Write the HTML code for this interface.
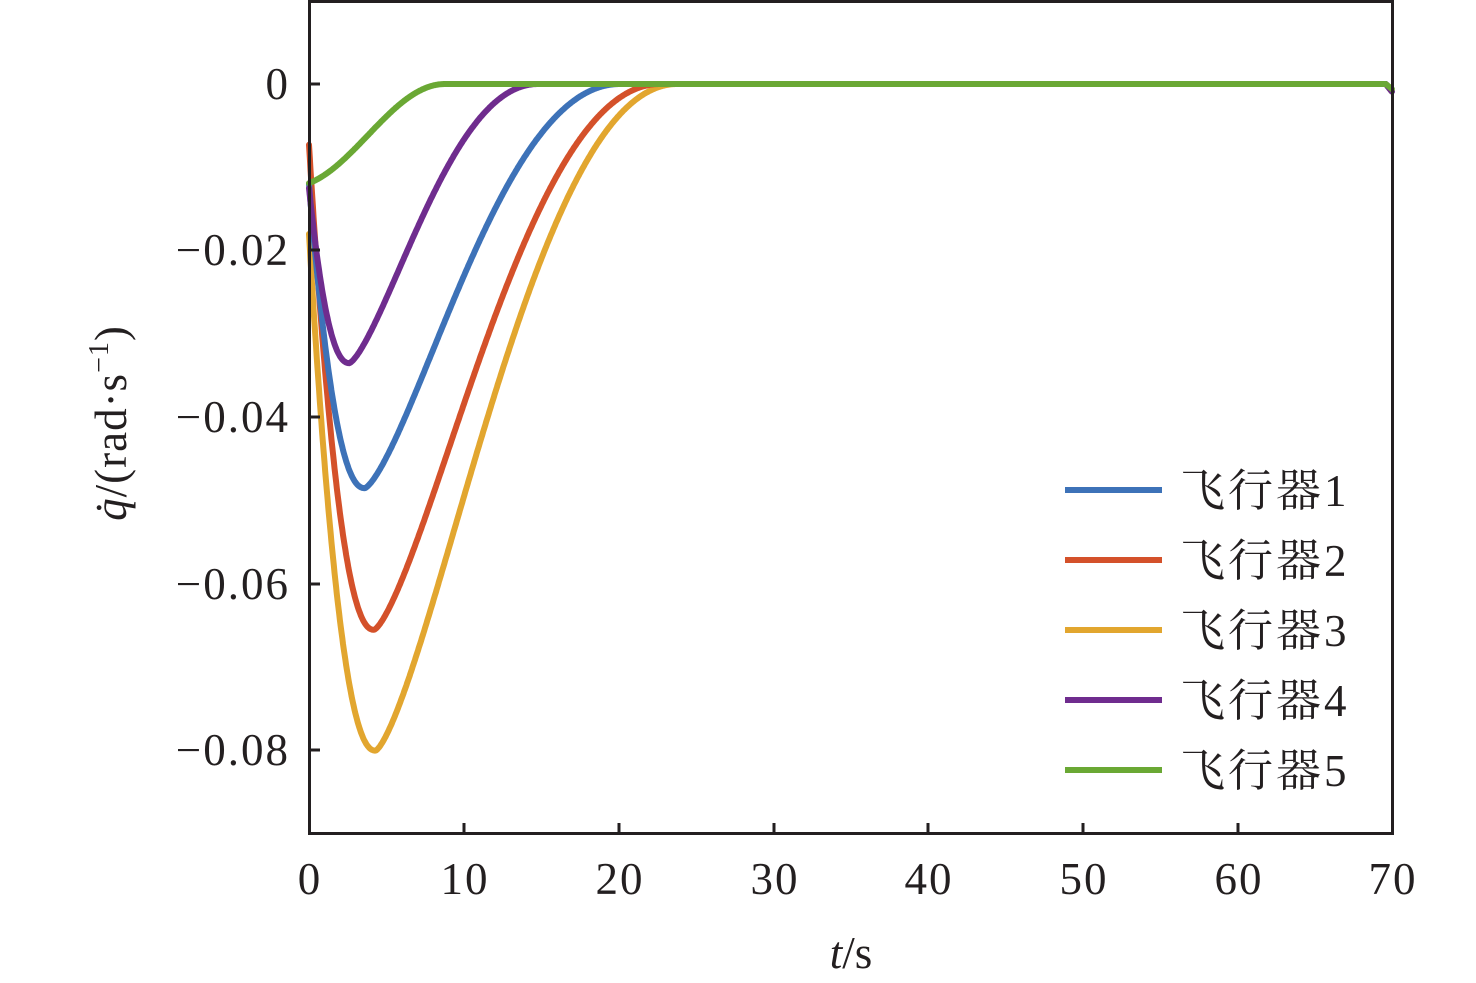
<!DOCTYPE html>
<html><head><meta charset="utf-8"><style>
html,body{margin:0;padding:0;background:#fff;}
svg{display:block;}
text{font-family:"Liberation Serif","Noto Serif CJK SC",serif;fill:#231f20;}
</style></head><body>
<svg id="s" width="1476" height="983" viewBox="0 0 1476 983" xmlns="http://www.w3.org/2000/svg">
<g id="curves" fill="none" stroke-width="6" stroke-linecap="round" stroke-linejoin="round"></g>
<rect x="309.5" y="1.5" width="1083" height="832" fill="none" stroke="#231f20" stroke-width="3"/>
<g stroke="#231f20" stroke-width="3">
<line x1="309" y1="84" x2="320" y2="84"/><line x1="309" y1="250" x2="320" y2="250"/><line x1="309" y1="417" x2="320" y2="417"/><line x1="309" y1="584" x2="320" y2="584"/><line x1="309" y1="750" x2="320" y2="750"/>
<line x1="464" y1="833" x2="464" y2="823"/><line x1="619" y1="833" x2="619" y2="823"/><line x1="774" y1="833" x2="774" y2="823"/><line x1="928" y1="833" x2="928" y2="823"/><line x1="1083" y1="833" x2="1083" y2="823"/><line x1="1238" y1="833" x2="1238" y2="823"/>
</g>
<g font-size="45" text-anchor="end" letter-spacing="2">
<text x="290" y="99">0</text><text x="290" y="265">−0.02</text><text x="290" y="432">−0.04</text><text x="290" y="599">−0.06</text><text x="290" y="765">−0.08</text>
</g>
<g font-size="45" text-anchor="middle" letter-spacing="2">
<text x="310" y="894">0</text><text x="465" y="894">10</text><text x="620" y="894">20</text><text x="775" y="894">30</text><text x="929" y="894">40</text><text x="1084" y="894">50</text><text x="1239" y="894">60</text><text x="1393" y="894">70</text>
</g>
<text x="851" y="968" font-size="45" text-anchor="middle"><tspan font-style="italic">t</tspan>/s</text>
<text transform="translate(126,423) rotate(-90)" font-size="45" text-anchor="middle" letter-spacing="1"><tspan font-style="italic">q̇</tspan>/(rad·s<tspan font-size="28" dy="-18">−1</tspan><tspan dy="18">)</tspan></text>
<g stroke-width="6">
<line x1="1065" y1="490" x2="1162" y2="490" stroke="#3d72b8"/>
<line x1="1065" y1="560" x2="1162" y2="560" stroke="#d4512a"/>
<line x1="1065" y1="630" x2="1162" y2="630" stroke="#e2a62f"/>
<line x1="1065" y1="700" x2="1162" y2="700" stroke="#6f2c8e"/>
<line x1="1065" y1="770" x2="1162" y2="770" stroke="#6aa834"/>
</g>
<g font-size="45" letter-spacing="3">
<text x="1180" y="506">飞行器1</text><text x="1180" y="576">飞行器2</text><text x="1180" y="646">飞行器3</text><text x="1180" y="716">飞行器4</text><text x="1180" y="786">飞行器5</text>
</g>
</svg>
<script>
(function(){
var g=document.getElementById('curves');
function X(t){return 309+t*15.47;}
function Y(v){return 84-v*8333;}
function dip(v0,vmin,tm,D,p){return function(t){
 var e=0; if(t>69.6){e=-0.0009*(t-69.6)/0.4;}
 if(t<tm){var s=1-t/tm;return vmin+(v0-vmin)*Math.pow(s,p);}
 var u=(t-tm)/D; if(u>=1) return e;
 return vmin*(1+Math.cos(Math.PI*Math.pow(u,0.7)))/2+e;};}
var series=[
 ['#e2a62f',dip(-0.018,-0.080,4.3,19.5,2.2)],
 ['#d4512a',dip(-0.0073,-0.0655,4.2,18.5,2.2)],
 ['#3d72b8',dip(-0.012,-0.0485,3.6,16.5,2.2)],
 ['#6f2c8e',dip(-0.0125,-0.0335,2.6,12.2,2.2)],
 ['#6aa834',function(t){var e=0; if(t>69.6){e=-0.0006*(t-69.6)/0.4;} var s=(t+1.2)/10; if(s>=1) return e; return -0.0119*(1+Math.cos(Math.PI*s))/2/0.965;}]
];
series.forEach(function(s){
 var d='';
 for(var t=0;t<=70.001;t+=0.05){d+=(t==0?'M':'L')+X(t).toFixed(1)+','+Y(s[1](t)).toFixed(1);}
 var p=document.createElementNS('http://www.w3.org/2000/svg','path');
 p.setAttribute('d',d);p.setAttribute('stroke',s[0]);g.appendChild(p);
});
})();
</script>
</body></html>
